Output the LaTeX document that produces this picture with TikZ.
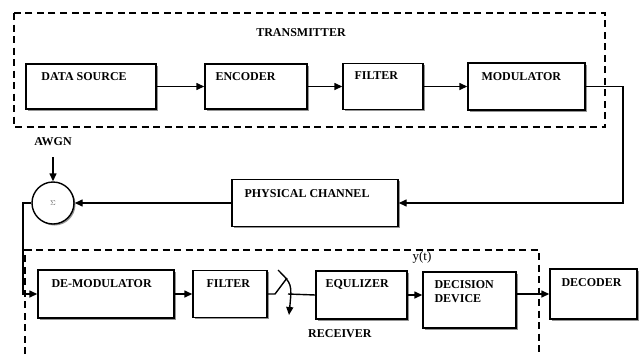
\documentclass[tikz,border=0pt]{standalone}
\usepackage{fontspec}
\setmainfont{Liberation Serif}
\usetikzlibrary{arrows.meta,shadows}
\begin{document}
\begin{tikzpicture}[x=1pt,y=1pt,
 blk/.style={draw, line width=1.4pt, fill=white, inner sep=0pt,
   drop shadow={shadow xshift=1.5pt, shadow yshift=-1.5pt, fill=black!70, opacity=0.6}},
 lbl/.style={font=\bfseries\fontsize{12}{14}\selectfont, inner sep=0pt, anchor=north west, align=left},
 con/.style={line width=1.4pt},
 arr/.style={con, -{Triangle[length=8pt,width=7pt]}},
 frame/.style={line width=1.5pt, dash pattern=on 7pt off 4.5pt}]
\useasboundingbox (0,-354) rectangle (640,0);
% frames
\draw[frame] (14,-13) rectangle (605,-127);
\draw[frame] (25,-354) -- (25,-250) -- (539,-250) -- (539,-354);
\node[lbl, anchor=center] (tx) at (301,-33) {TRANSMITTER};
\node[lbl, anchor=west] (rx) at (308,-334) {RECEIVER};
% transmitter blocks
\node[blk, minimum width=130, minimum height=45] (ds) at (91,-86.5) {};
\node[blk, minimum width=102, minimum height=45] (en) at (256,-86.5) {};
\node[blk, minimum width=80, minimum height=46] (fi) at (383,-86.5) {};
\node[blk, minimum width=117, minimum height=47] (mo) at (526.5,-86.5) {};
\node[lbl] (dsT) at ([shift={(16,-9)}]ds.north west) {DATA SOURCE};
\node[lbl] (enT) at ([shift={(11,-9)}]en.north west) {ENCODER};
\node[lbl] (fiT) at ([shift={(12,-9)}]fi.north west) {FILTER};
\node[lbl] (moT) at ([shift={(14,-10)}]mo.north west) {MODULATOR};
% channel
\node[blk, minimum width=166, minimum height=47] (pc) at (315,-203) {};
\node[lbl] (pcT) at ([shift={(13,-11)}]pc.north west) {PHYSICAL CHANNEL};
\node[blk, circle, minimum size=42] (sum) at (53,-203) {\scriptsize\color{black!60}$\Sigma$};
\node[lbl, anchor=center] (awgn) at (53,-142) {AWGN};
\coordinate (awgnin) at (53,-157);
% receiver blocks
\node[blk, minimum width=136, minimum height=48] (dm) at (106,-294) {};
\node[blk, minimum width=74, minimum height=47] (f2) at (230,-294) {};
\node[blk, minimum width=91, minimum height=48] (eq) at (361.5,-295) {};
\node[blk, minimum width=93, minimum height=56] (dd) at (469.5,-300) {};
\node[blk, minimum width=87, minimum height=50] (de) at (593.5,-294) {};
\node[lbl] (dmT) at ([shift={(14,-10)}]dm.north west) {DE-MODULATOR};
\node[lbl] (f2T) at ([shift={(14,-10)}]f2.north west) {FILTER};
\node[lbl] (eqT) at ([shift={(10,-9)}]eq.north west) {EQULIZER};
\node[lbl] (ddT) at ([shift={(12,-9)}]dd.north west) {DECISION\\DEVICE};
\node[lbl] (deT) at ([shift={(12,-10)}]de.north west) {DECODER};
\node[font=\fontsize{13}{15}\selectfont, inner sep=0pt] (yt) at (422,-257) {y(t)};
% connectors
\draw[arr] (ds) -- (en);
\draw[arr] (en) -- (fi);
\draw[arr] (fi) -- (mo);
\coordinate (c1) at (623,-88);
\draw[arr] (mo.east) -- (mo.east -| c1) -- (c1 |- pc.east) -- (pc.east);
\draw[arr] (pc.west) -- (sum.east);
\draw[arr] (awgnin) -- (sum.north);
\coordinate (c2) at (23,-203);
\draw[arr] (sum.west) -- (c2) -- (c2 |- dm.west) -- (dm.west);
\draw[arr] (dm) -- (f2);
\coordinate (s1) at (275,-294);
\coordinate (s2) at (287,-278);
\coordinate (s3) at (278,-270);
\coordinate (s4) at (289,-315);
\coordinate (s5) at (288,-294);
\draw[con] (f2.east) -- (s1) -- (s2);
\draw[arr] (s3) .. controls (292,-284) .. (s4);
\draw[con] (s5) -- (eq.west);
\draw[arr] (eq.east) -- (eq.east -| dd.west);
\draw[arr] (dd.east |- de.west) -- (de.west);
\end{tikzpicture}
\end{document}
